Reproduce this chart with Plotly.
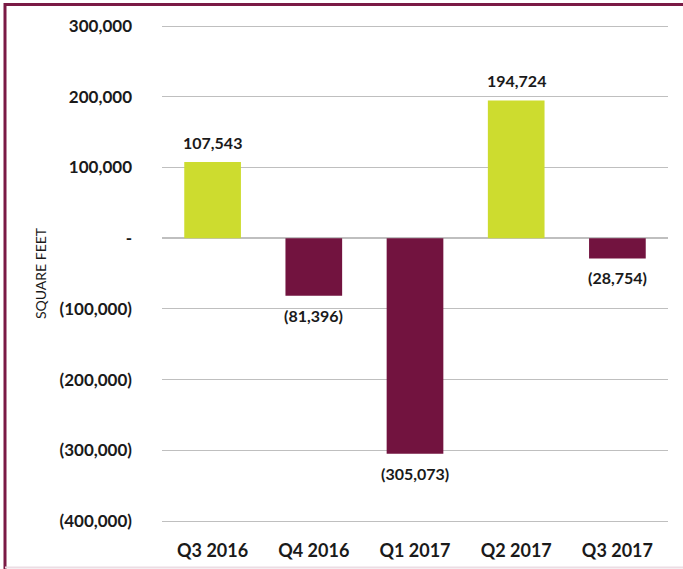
import plotly.graph_objects as go

categories = ["Q3 2016", "Q4 2016", "Q1 2017", "Q2 2017", "Q3 2017"]
values = [107543, -81396, -305073, 194724, -28754]
tick_vals = [300000, 200000, 100000, 0, -100000, -200000, -300000, -400000]
tick_text = ["300,000", "200,000", "100,000", "-", "(100,000)", "(200,000)", "(300,000)", "(400,000)"]

POS = "#cddc2f"
NEG = "#72133f"

def fmt(v):
    s = f"{abs(v):,}"
    return f"({s})" if v < 0 else s

colors = [POS if v >= 0 else NEG for v in values]

fig = go.Figure(go.Bar(
    x=categories, y=values, marker_color=colors, marker_line_width=0,
    width=0.56, hoverinfo="x+y",
))

PAD = 3  # extra pixels above/below so edge gridlines are drawn
L, R, T, B = 162, 15, 26 - PAD, 48 - PAD
W, H = 683, 569
pw, ph = W - L - R, H - T - B
per_px = 700000 / 495
yr = [-400000 - PAD * per_px, 300000 + PAD * per_px]

def px_x(x):
    return (x - L) / pw

def px_y(y):
    return (H - B - y) / ph

annotations = [dict(
    text="SQUARE FEET", textangle=-90, xref="paper", yref="paper",
    x=px_x(40), y=px_y(273), xanchor="center", yanchor="middle", showarrow=False,
    font=dict(family="Lato", size=14, color="#1a1a1a"),
)]
for c, v in zip(categories, values):
    annotations.append(dict(
        x=c, y=v, xref="x", yref="y", text=fmt(v), showarrow=False,
        yanchor="bottom" if v >= 0 else "top", yshift=8 if v >= 0 else -8,
        font=dict(family="Lato", size=16, color="#1a1a1a", weight="bold"),
    ))

fig.update_layout(
    width=W, height=H,
    margin=dict(l=L, r=R, t=T, b=B),
    paper_bgcolor="white", plot_bgcolor="white",
    showlegend=False,
    font=dict(family="Lato", color="#1a1a1a"),
    xaxis=dict(
        showgrid=False, showline=False, ticks="", automargin=False,
        tickfont=dict(family="Lato", size=18, color="#1a1a1a", weight="bold"),
        ticklabelstandoff=11 + PAD,
    ),
    yaxis=dict(
        range=yr, automargin=False,
        tickvals=tick_vals, ticktext=tick_text,
        tickfont=dict(family="Lato", size=17, color="#1a1a1a", weight="bold"),
        showgrid=True, gridcolor="#bfbfbf", gridwidth=1,
        zeroline=True, zerolinecolor="#bfbfbf", zerolinewidth=2,
        showline=False, ticks="", ticklabelstandoff=29,
    ),
    annotations=annotations,
    shapes=[
        dict(type="line", xref="paper", yref="paper", x0=px_x(5), x1=px_x(690),
             y0=px_y(4.5), y1=px_y(4.5), line=dict(color="#7a1a45", width=3)),
        dict(type="line", xref="paper", yref="paper", x0=px_x(5), x1=px_x(5),
             y0=px_y(3), y1=px_y(569), line=dict(color="#7a1a45", width=3)),
        dict(type="line", xref="paper", yref="paper", x0=px_x(5), x1=px_x(690),
             y0=px_y(567.5), y1=px_y(567.5), line=dict(color="#ecdde4", width=2)),
    ],
)

fig.write_html("out.html", config={"displayModeBar": False},
               post_script="document.body.style.margin='0';")
